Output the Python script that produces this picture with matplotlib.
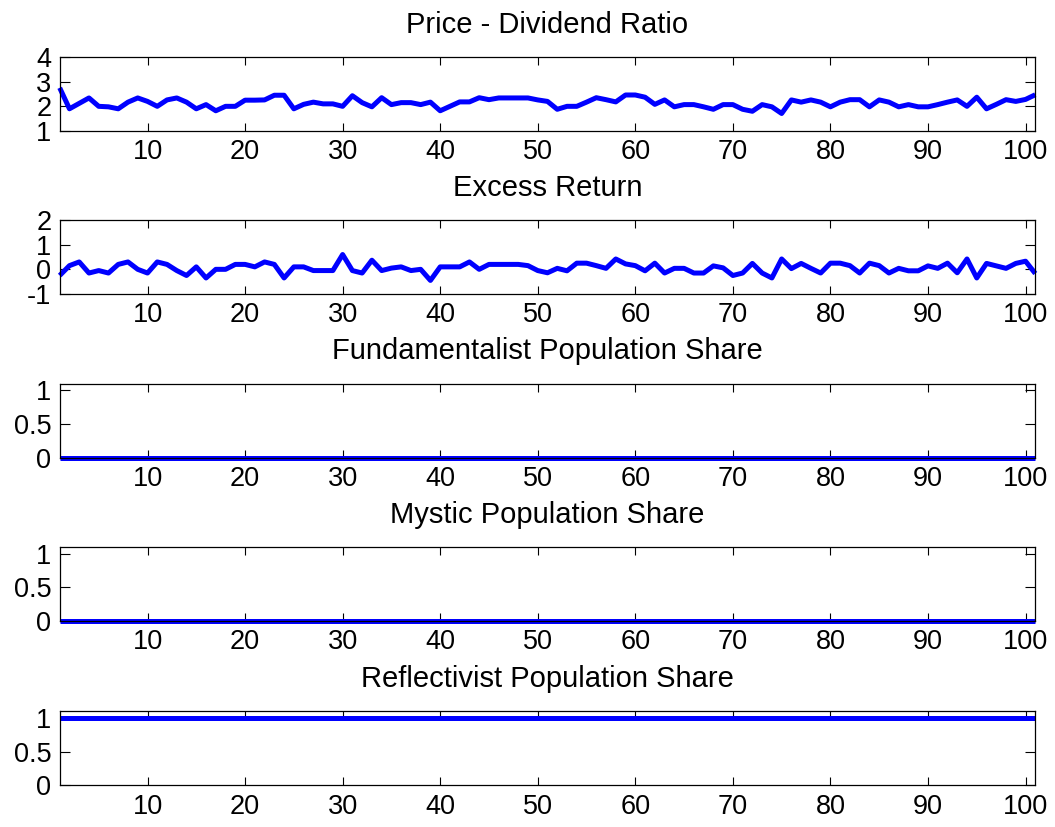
import numpy as np
import matplotlib
matplotlib.use("Agg")
import matplotlib.pyplot as plt

plt.rcParams['font.family'] = ['Liberation Sans', 'DejaVu Sans']

periods = list(range(1, 102))

price_dividend = [
    2.75, 1.90, 2.12, 2.34, 2.00, 1.98, 1.90, 2.17, 2.34, 2.20,
    2.00, 2.26, 2.34, 2.17, 1.90, 2.07, 1.82, 2.00, 2.00, 2.25,
    2.25, 2.26, 2.45, 2.45, 1.90, 2.08, 2.17, 2.10, 2.10, 2.00,
    2.43, 2.15, 1.98, 2.35, 2.07, 2.15, 2.15, 2.07, 2.17, 1.82,
    2.00, 2.18, 2.18, 2.35, 2.27, 2.34, 2.34, 2.34, 2.34, 2.26,
    2.20, 1.88, 2.00, 2.00, 2.17, 2.35, 2.27, 2.18, 2.46, 2.46,
    2.37, 2.08, 2.26, 1.98, 2.07, 2.07, 1.98, 1.88, 2.07, 2.07,
    1.88, 1.80, 2.07, 1.98, 1.71, 2.26, 2.17, 2.26, 2.17, 1.98,
    2.17, 2.27, 2.27, 1.98, 2.26, 2.17, 1.98, 2.07, 1.98, 1.98,
    2.07, 2.17, 2.26, 2.00, 2.37, 1.90, 2.08, 2.27, 2.20, 2.28,
    2.47,
]

excess_return = [
    -0.25, 0.15, 0.30, -0.15, -0.05, -0.15, 0.20, 0.30, 0.00, -0.15,
    0.30, 0.20, -0.05, -0.25, 0.10, -0.35, 0.00, 0.00, 0.20, 0.20,
    0.10, 0.30, 0.20, -0.35, 0.10, 0.10, -0.05, -0.05, -0.05, 0.60,
    -0.05, -0.15, 0.37, -0.05, 0.05, 0.10, -0.05, 0.00, -0.45, 0.10,
    0.10, 0.10, 0.30, 0.00, 0.20, 0.20, 0.20, 0.20, 0.15, -0.05,
    -0.14, 0.04, -0.06, 0.25, 0.25, 0.15, 0.04, 0.42, 0.22, 0.15,
    -0.06, 0.25, -0.15, 0.04, 0.04, -0.15, -0.15, 0.14, 0.06, -0.25,
    -0.15, 0.24, -0.15, -0.35, 0.42, 0.03, 0.24, 0.04, -0.15, 0.25,
    0.25, 0.15, -0.15, 0.25, 0.15, -0.15, 0.04, -0.06, -0.06, 0.14,
    0.04, 0.25, -0.14, 0.42, -0.35, 0.24, 0.14, 0.04, 0.24, 0.33,
    -0.17,
]

fundamentalist_share = [0.0] * 101
mystic_share = [0.0] * 101
reflectivist_share = [1.0] * 101

panels = [
    ("Price - Dividend Ratio", price_dividend, (1, 4), [1, 2, 3, 4], ["1", "2", "3", "4"]),
    ("Excess Return", excess_return, (-1, 2), [-1, 0, 1, 2], ["-1", "0", "1", "2"]),
    ("Fundamentalist Population Share", fundamentalist_share, (0, 1.1), [0, 0.5, 1], ["0", "0.5", "1"]),
    ("Mystic Population Share", mystic_share, (0, 1.1), [0, 0.5, 1], ["0", "0.5", "1"]),
    ("Reflectivist Population Share", reflectivist_share, (0, 1.1), [0, 0.5, 1], ["0", "0.5", "1"]),
]

W, H = 1055, 827
fig = plt.figure(figsize=(W / 100, H / 100), dpi=100)

left_px, right_px = 59.7, 1035.3
bottoms_px = [131, 294, 457.5, 621, 785.3]
height_px = 74

for (title, values, ylim, yticks, ylabels), bottom in zip(panels, bottoms_px):
    ax = fig.add_axes([left_px / W, 1 - bottom / H, (right_px - left_px) / W, height_px / H])
    ax.plot(periods, values, color=(0, 0, 1), lw=3.6, clip_on=False, solid_capstyle='butt')
    ax.set_xlim(1, 101)
    ax.set_ylim(*ylim)
    ax.set_xticks(range(10, 101, 10))
    ax.set_yticks(yticks)
    ax.set_yticklabels(ylabels)
    ax.tick_params(axis='both', direction='in', labelsize=19.5, width=0.8,
                   top=True, right=True, color='black')
    ax.tick_params(axis='x', length=5.5, pad=6)
    ax.tick_params(axis='y', length=7.5, pad=6)
    for s in ax.spines.values():
        s.set_linewidth(0.9)
    ax.set_title(title, fontsize=21, pad=17.5)

fig.savefig("out.png", dpi=100)
